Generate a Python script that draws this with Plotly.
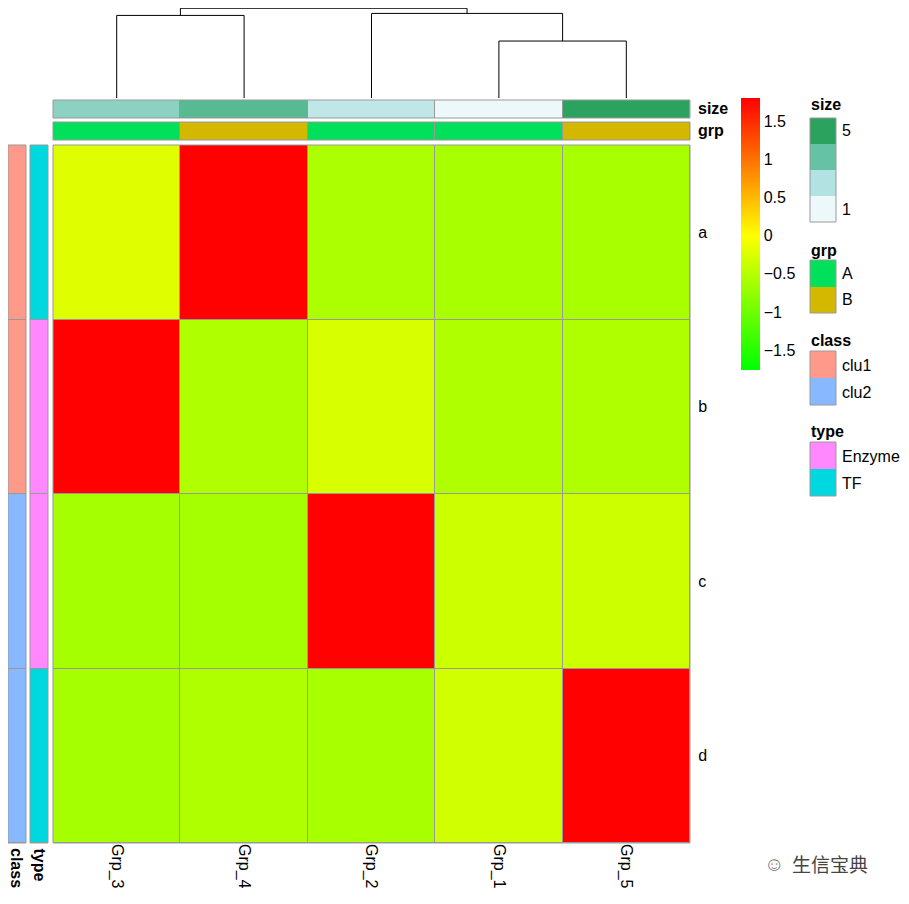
import plotly.graph_objects as go

cols = ["Grp_3", "Grp_4", "Grp_2", "Grp_1", "Grp_5"]
rows = ["a", "b", "c", "d"]
z = [
    [-0.22, 1.79, -0.58, -0.6, -0.6],
    [1.79, -0.55, -0.27, -0.55, -0.55],
    [-0.62, -0.62, 1.79, -0.35, -0.35],
    [-0.62, -0.55, -0.6, -0.33, 1.79],
]
size_vals = [3, 4, 2, 1, 5]
grp_vals = ["A", "B", "A", "A", "B"]
class_vals = ["clu1", "clu1", "clu2", "clu2"]
type_vals = ["TF", "Enzyme", "Enzyme", "TF"]
grp_colors = {"A": "#00e05a", "B": "#d4b800"}
class_colors = {"clu1": "#ff9a8a", "clu2": "#88b8ff"}
type_colors = {"Enzyme": "#ff88ff", "TF": "#00d8e0"}
size_scale = [[0, "#edf8fb"], [0.33, "#b2e2e2"], [0.67, "#66c2a4"], [1, "#2ca25f"]]
# dendrogram merges: (left x, right x, left h, right h, merge h)
dendro = [
    (0, 1, 0, 0, 2.9),
    (3, 4, 0, 0, 2.0),
    (2, 3.5, 0, 2.0, 2.97),
    (0.5, 2.75, 2.9, 2.97, 3.15),
]

W, H = 909, 904
OFF = 8
clamp = lambda v: max(0.0, min(1.0, v))
fx = lambda p: clamp((p - OFF) / W)
fy = lambda p: clamp(1 - (p - OFF) / H)
FONT = "Liberation Sans"
GREY = "#999999"

fig = go.Figure()

def disc_scale(colors):
    n = len(colors)
    sc = []
    for i, c in enumerate(colors):
        sc += [[i / n, c], [(i + 1) / n, c]]
    return sc

fig.add_trace(go.Heatmap(
    z=z, x=list(range(len(cols))), y=list(range(len(rows))),
    colorscale=[[0, "#00ff00"], [0.494, "#ffff00"], [1, "#ff0000"]],
    zmin=-1.76, zmax=1.8, xgap=1, ygap=1, xaxis="x", yaxis="y",
    colorbar=dict(x=fx(741), xanchor="left", y=fy(98), yanchor="top", xpad=0, ypad=0,
                  len=272 / H, thickness=19, outlinewidth=0,
                  tickvals=[-1.5, -1, -0.5, 0, 0.5, 1, 1.5],
                  ticktext=["\u22121.5", "\u22121", "\u22120.5", "0", "0.5", "1", "1.5"],
                  ticks="", tickfont=dict(size=16, family=FONT, color="#000")),
))

fig.add_trace(go.Heatmap(z=[size_vals], x=list(range(len(cols))), colorscale=size_scale,
                         zmin=1, zmax=5, showscale=False, xgap=1, xaxis="x2", yaxis="y2"))
gk = list(grp_colors)
fig.add_trace(go.Heatmap(z=[[gk.index(v) for v in grp_vals]], x=list(range(len(cols))),
                         colorscale=disc_scale(list(grp_colors.values())), zmin=-0.5, zmax=len(gk) - 0.5,
                         showscale=False, xgap=1, xaxis="x3", yaxis="y3"))
ck = list(class_colors)
fig.add_trace(go.Heatmap(z=[[ck.index(v)] for v in class_vals], y=list(range(len(rows))),
                         colorscale=disc_scale(list(class_colors.values())), zmin=-0.5, zmax=len(ck) - 0.5,
                         showscale=False, ygap=1, xaxis="x4", yaxis="y4"))
tk = list(type_colors)
fig.add_trace(go.Heatmap(z=[[tk.index(v)] for v in type_vals], y=list(range(len(rows))),
                         colorscale=disc_scale(list(type_colors.values())), zmin=-0.5, zmax=len(tk) - 0.5,
                         showscale=False, ygap=1, xaxis="x5", yaxis="y5"))

for xl, xr, hl, hr, hm in dendro:
    fig.add_trace(go.Scatter(x=[xl, xl, xr, xr], y=[hl, hm, hm, hr], mode="lines",
                             line=dict(color="black", width=1), showlegend=False,
                             hoverinfo="skip", xaxis="x6", yaxis="y6"))

hx = [fx(53), fx(690)]
noax = dict(showticklabels=False, showgrid=False, zeroline=False, ticks="")
tf = dict(size=16, family=FONT, color="#000")
fig.update_layout(
    width=W, height=H, margin=dict(l=0, r=0, t=0, b=0),
    paper_bgcolor="white", plot_bgcolor="white", showlegend=False,
    xaxis=dict(domain=hx, range=[-0.5, 4.5], tickvals=list(range(len(cols))), ticktext=cols,
               tickangle=90, showgrid=False, zeroline=False, ticks="", tickfont=tf, anchor="y"),
    yaxis=dict(domain=[fy(843), fy(145)], range=[3.5, -0.5], tickvals=list(range(len(rows))),
               ticktext=rows, side="right", showgrid=False, zeroline=False, ticks="outside",
               ticklen=4, tickcolor="white", tickfont=tf, anchor="x"),
    xaxis2=dict(domain=hx, range=[-0.5, 4.5], anchor="y2", **noax),
    yaxis2=dict(domain=[fy(118), fy(100)], range=[-0.5, 0.5], anchor="x2", **noax),
    xaxis3=dict(domain=hx, range=[-0.5, 4.5], anchor="y3", **noax),
    yaxis3=dict(domain=[fy(140), fy(122)], range=[-0.5, 0.5], anchor="x3", **noax),
    xaxis4=dict(domain=[fx(8), fx(26)], range=[-0.5, 0.5], anchor="y4", **noax),
    yaxis4=dict(domain=[fy(843), fy(145)], range=[3.5, -0.5], anchor="x4", **noax),
    xaxis5=dict(domain=[fx(30), fx(48)], range=[-0.5, 0.5], anchor="y5", **noax),
    yaxis5=dict(domain=[fy(843), fy(145)], range=[3.5, -0.5], anchor="x5", **noax),
    xaxis6=dict(domain=hx, range=[-0.5, 4.5], anchor="y6", **noax),
    yaxis6=dict(domain=[fy(98), fy(8)], range=[0, 3.16], anchor="x6", **noax),
)

shapes = []
for ax in ["", "2", "3", "4", "5"]:
    shapes.append(dict(type="rect", xref=f"x{ax} domain", yref=f"y{ax} domain",
                       x0=0, x1=1, y0=0, y1=1, fillcolor=GREY, line=dict(width=0), layer="below"))
    shapes.append(dict(type="rect", xref=f"x{ax} domain", yref=f"y{ax} domain",
                       x0=0, x1=1, y0=0, y1=1, line=dict(color=GREY, width=1), layer="above"))

ann = []
bold = dict(size=16, family=FONT, color="#000", weight="bold")
reg = dict(size=16, family=FONT, color="#000")
ann.append(dict(x=fx(696), y=fy(109), text="<b>size</b>", font=bold, yanchor="middle"))
ann.append(dict(x=fx(696), y=fy(131), text="<b>grp</b>", font=bold, yanchor="middle"))
ann.append(dict(x=fx(17), y=fy(846), text="<b>class</b>", font=bold, textangle=90, yanchor="top", xanchor="center"))
ann.append(dict(x=fx(39), y=fy(846), text="<b>type</b>", font=bold, textangle=90, yanchor="top", xanchor="center"))

def legend_block(title, ty, items, labels_at):
    ann.append(dict(x=fx(809), y=fy(ty), text=f"<b>{title}</b>", font=bold, yanchor="middle"))
    for y0, y1, c in items:
        shapes.append(dict(type="rect", xref="paper", yref="paper", x0=fx(810), x1=fx(836),
                           y0=fy(y1), y1=fy(y0), fillcolor=c, line=dict(width=0)))
    top = min(i[0] for i in items); bot = max(i[1] for i in items)
    shapes.append(dict(type="rect", xref="paper", yref="paper", x0=fx(810), x1=fx(836),
                       y0=fy(bot), y1=fy(top), line=dict(color=GREY, width=1)))
    for y, t in labels_at:
        ann.append(dict(x=fx(840), y=fy(y), text=t, font=reg, yanchor="middle"))

legend_block("size", 105, [(118, 144, "#2ca25f"), (144, 170, "#66c2a4"),
                           (170, 196, "#b2e2e2"), (196, 222, "#edf8fb")], [(131, "5"), (210, "1")])
legend_block("grp", 250, [(260, 287, grp_colors["A"]), (287, 313, grp_colors["B"])], [(273, "A"), (300, "B")])
legend_block("class", 340, [(351, 378, class_colors["clu1"]), (378, 405, class_colors["clu2"])],
             [(365, "clu1"), (392, "clu2")])
legend_block("type", 431, [(442, 469, type_colors["Enzyme"]), (469, 496, type_colors["TF"])],
             [(456, "Enzyme"), (483, "TF")])

ann.append(dict(x=fx(790), y=fy(863), text="生信宝典", font=dict(size=19, family="Noto Sans CJK SC", color="#444"),
                yanchor="middle"))
ann.append(dict(x=fx(762), y=fy(863), text="\u263A", font=dict(size=20, color="#777"), yanchor="middle"))
for a in ann:
    a.setdefault("xref", "paper"); a.setdefault("yref", "paper")
    a.setdefault("xanchor", "left"); a.setdefault("showarrow", False)
fig.update_layout(shapes=shapes, annotations=ann)
fig.write_html("out.html")
